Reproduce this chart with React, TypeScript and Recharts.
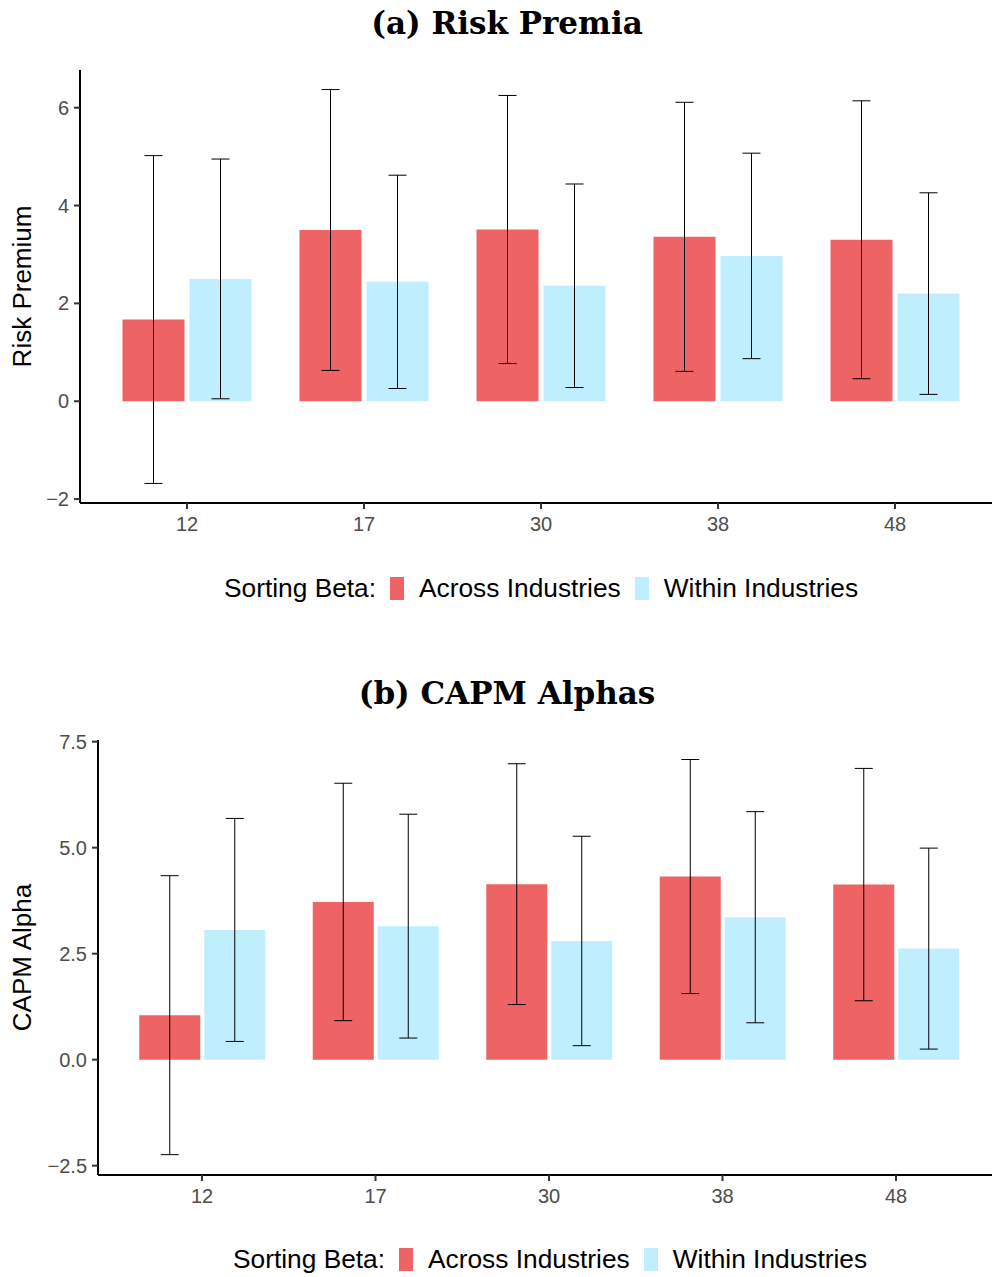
import React from "react";
import { Bar, BarChart, ErrorBar, XAxis, YAxis } from "recharts";

// portfolio counts on the x axis
const sizes = ["12", "17", "30", "38", "48"];

// (a) risk premia, bar height and half-width of the interval
const premiumAcross = [1.67, 3.5, 3.51, 3.36, 3.3];
const premiumAcrossErr = [3.35, 2.87, 2.74, 2.75, 2.84];
const premiumWithin = [2.5, 2.44, 2.36, 2.97, 2.2];
const premiumWithinErr = [2.45, 2.18, 2.08, 2.1, 2.06];

// (b) CAPM alphas
const alphaAcross = [1.05, 3.72, 4.14, 4.32, 4.13];
const alphaAcrossErr = [3.29, 2.8, 2.84, 2.76, 2.74];
const alphaWithin = [3.06, 3.15, 2.8, 3.36, 2.62];
const alphaWithinErr = [2.63, 2.64, 2.47, 2.49, 2.37];

const premiumTicks = [-2, 0, 2, 4, 6];
const alphaTicks = [-2.5, 0, 2.5, 5, 7.5];

const RED = "#EE6363";
const BLUE = "#BFEFFF";
const SANS = "'Liberation Sans', Arial, Helvetica, sans-serif";
const SERIF = "'DejaVu Serif', serif";

const premiumData = sizes.map((size, i) => ({
  size,
  across: premiumAcross[i],
  acrossErr: premiumAcrossErr[i],
  within: premiumWithin[i],
  withinErr: premiumWithinErr[i],
}));

const alphaData = sizes.map((size, i) => ({
  size,
  across: alphaAcross[i],
  acrossErr: alphaAcrossErr[i],
  within: alphaWithin[i],
  withinErr: alphaWithinErr[i],
}));

const minus = (s: string) => s.replace("-", "\u2212");

function AxisTitle({ viewBox, text, titleX }: any) {
  const cy = viewBox.y + viewBox.height / 2;
  return (
    <text
      transform={`translate(${titleX}, ${cy}) rotate(-90)`}
      textAnchor="middle"
      dominantBaseline="central"
      fontFamily={SANS}
      fontSize={26}
      fill="#000"
    >
      {text}
    </text>
  );
}

function Title({ text, top }: { text: string; top: number }) {
  return (
    <svg width={992} height={60} style={{ position: "absolute", left: 0, top }}>
      <text x={507} y={34} textAnchor="middle" fontFamily={SERIF} fontWeight="bold" fontSize={31} fill="#000">
        {text}
      </text>
    </svg>
  );
}

function Key({ color }: { color: string }) {
  return <span style={{ display: "inline-block", width: 14, height: 23, background: color, margin: "0 15px 0 14px" }} />;
}

function FillLegend({ left, top }: { left: number; top: number }) {
  return (
    <div
      style={{
        position: "absolute",
        left,
        top,
        display: "flex",
        alignItems: "center",
        fontFamily: SANS,
        fontSize: 26.3,
        lineHeight: "26px",
        color: "#000",
        whiteSpace: "nowrap",
      }}
    >
      <span>Sorting Beta:</span>
      <Key color={RED} />
      <span>Across Industries</span>
      <Key color={BLUE} />
      <span>Within Industries</span>
    </div>
  );
}

type PanelProps = {
  data: typeof premiumData;
  top: number;
  height: number;
  axisWidth: number;
  pad: { left: number; right: number };
  barGap: number;
  domain: [number, number];
  ticks: number[];
  format: (v: number) => string;
  label: string;
};

function Panel({ data, top, height, axisWidth, pad, barGap, domain, ticks, format, label }: PanelProps) {
  const tickStyle = { fill: "#4D4D4D", fontSize: 20, fontFamily: SANS };
  const line = { stroke: "#000", strokeWidth: 2 };
  const tickLine = { stroke: "#333", strokeWidth: 2 };
  return (
    <div style={{ position: "absolute", left: 0, top }}>
      <BarChart
        width={992}
        height={height}
        data={data}
        margin={{ top: 70, right: 0, bottom: 0, left: 0 }}
        barCategoryGap={24}
        barGap={barGap}
      >
        <XAxis
          dataKey="size"
          height={37}
          padding={pad}
          axisLine={line}
          tickLine={tickLine}
          tickSize={6}
          tickMargin={8}
          tick={tickStyle}
        />
        <YAxis
          width={axisWidth}
          type="number"
          domain={domain}
          ticks={ticks}
          allowDataOverflow
          axisLine={line}
          tickLine={tickLine}
          tickSize={6}
          tickMargin={5}
          tick={tickStyle}
          tickFormatter={format}
          label={<AxisTitle text={label} titleX={22} />}
        />
        <Bar dataKey="across" fill={RED} isAnimationActive={false}>
          <ErrorBar dataKey="acrossErr" width={9} stroke="#000" strokeWidth={1} isAnimationActive={false} />
        </Bar>
        <Bar dataKey="within" fill={BLUE} isAnimationActive={false}>
          <ErrorBar dataKey="withinErr" width={9} stroke="#000" strokeWidth={1} isAnimationActive={false} />
        </Bar>
      </BarChart>
    </div>
  );
}

export default function App() {
  return (
    <div style={{ position: "absolute", left: 0, top: 0, width: 992, height: 1277, background: "#fff", overflow: "hidden" }}>
      <Title text="(a) Risk Premia" top={0} />
      <Panel
        data={premiumData}
        top={0}
        height={540}
        axisWidth={80}
        pad={{ left: 18.5, right: 8.5 }}
        barGap={5}
        domain={[-2.08, 6.77]}
        ticks={premiumTicks}
        format={(v) => minus(String(v))}
        label="Risk Premium"
      />
      <FillLegend left={224} top={575} />

      <Title text="(b) CAPM Alphas" top={670} />
      <Panel
        data={alphaData}
        top={670}
        height={542}
        axisWidth={98}
        pad={{ left: 17.25, right: 9.25 }}
        barGap={4}
        domain={[-2.72, 7.54]}
        ticks={alphaTicks}
        format={(v) => minus(v.toFixed(1))}
        label="CAPM Alpha"
      />
      <FillLegend left={233} top={1246} />
    </div>
  );
}
